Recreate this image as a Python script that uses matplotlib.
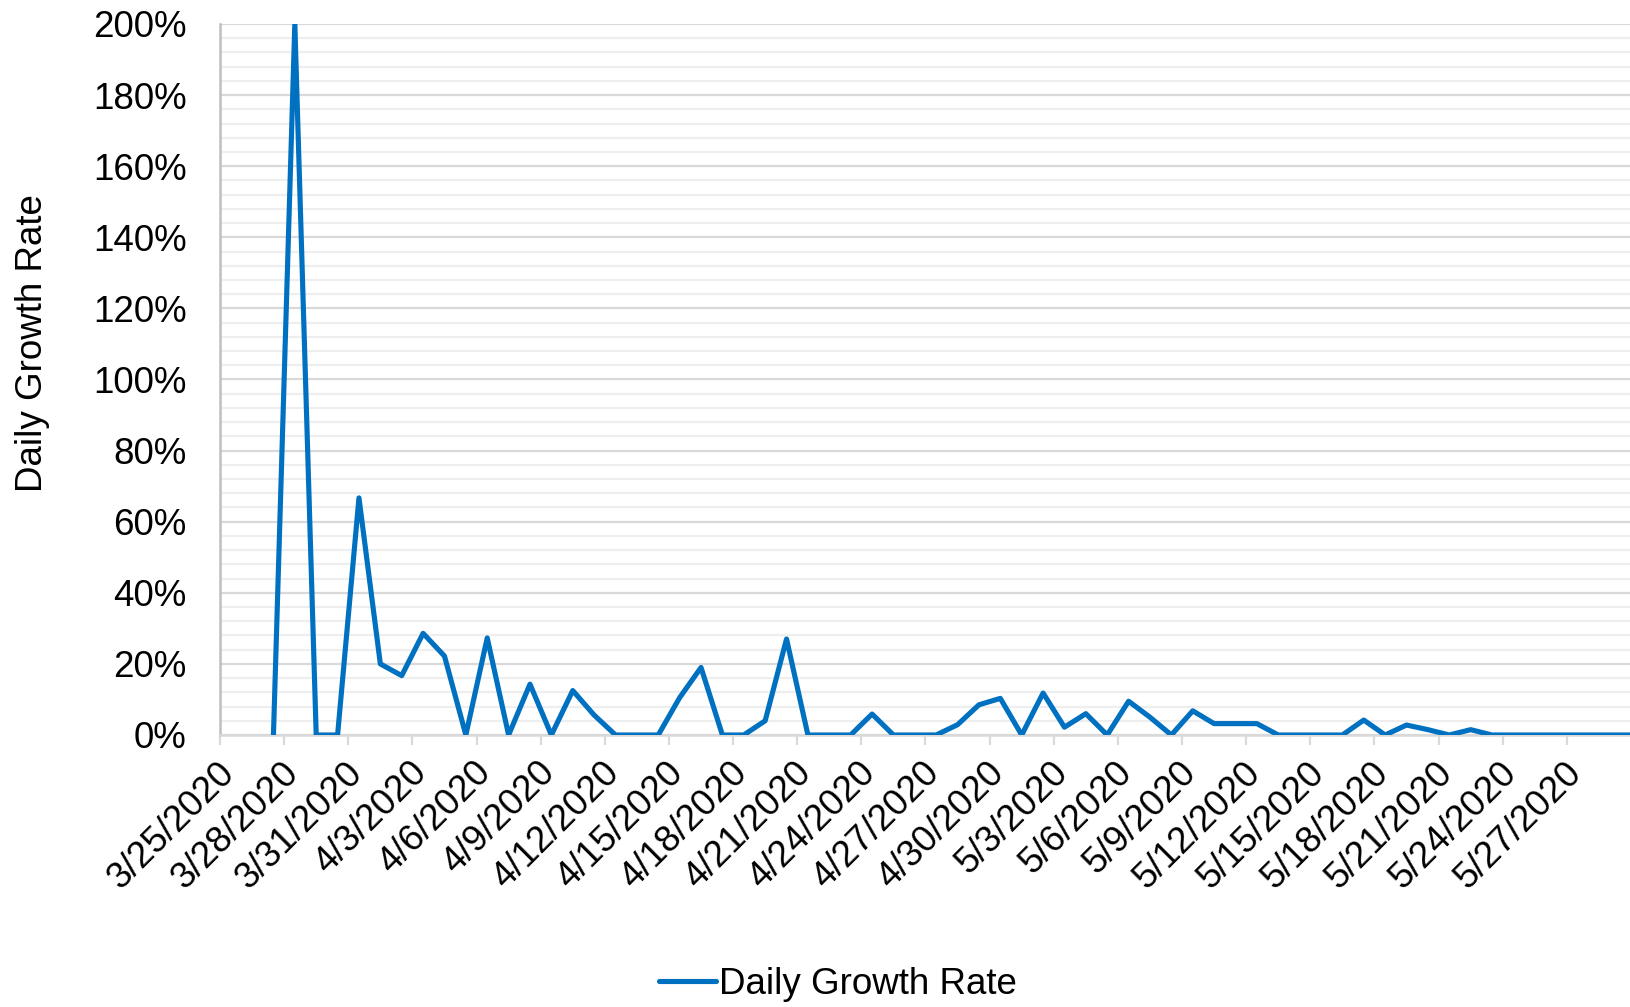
import numpy as np
import matplotlib
matplotlib.use("Agg")
import matplotlib.pyplot as plt
from matplotlib.ticker import MultipleLocator, FuncFormatter
import matplotlib.transforms as mtransforms

plt.rcParams['font.family'] = ['Liberation Sans', 'DejaVu Sans']

# Categories: one per day, 3/25/2020 ... 5/31/2020
dates = ["3/25/2020", "3/26/2020", "3/27/2020", "3/28/2020", "3/29/2020", "3/30/2020", "3/31/2020",
         "4/1/2020", "4/2/2020", "4/3/2020", "4/4/2020", "4/5/2020", "4/6/2020", "4/7/2020",
         "4/8/2020", "4/9/2020", "4/10/2020", "4/11/2020", "4/12/2020", "4/13/2020", "4/14/2020",
         "4/15/2020", "4/16/2020", "4/17/2020", "4/18/2020", "4/19/2020", "4/20/2020", "4/21/2020",
         "4/22/2020", "4/23/2020", "4/24/2020", "4/25/2020", "4/26/2020", "4/27/2020", "4/28/2020",
         "4/29/2020", "4/30/2020", "5/1/2020", "5/2/2020", "5/3/2020", "5/4/2020", "5/5/2020",
         "5/6/2020", "5/7/2020", "5/8/2020", "5/9/2020", "5/10/2020", "5/11/2020", "5/12/2020",
         "5/13/2020", "5/14/2020", "5/15/2020", "5/16/2020", "5/17/2020", "5/18/2020", "5/19/2020",
         "5/20/2020", "5/21/2020", "5/22/2020", "5/23/2020", "5/24/2020", "5/25/2020", "5/26/2020",
         "5/27/2020", "5/28/2020", "5/29/2020", "5/30/2020", "5/31/2020"]

# Daily growth rate in percent (NaN = no data)
growth = [np.nan, np.nan, 0, 200, 0, 0, 66.7,
          20.0, 16.7, 28.6, 22.2, 0, 27.3, 0,
          14.3, 0, 12.5, 5.6, 0, 0, 0,
          10.5, 19.0, 0, 0, 4.0, 27.0, 0,
          0, 0, 5.9, 0, 0, 0, 2.9,
          8.5, 10.3, 0, 11.8, 2.2, 6.0, 0,
          9.5, 5.0, 0, 6.8, 3.2, 3.2, 3.2,
          0, 0, 0, 0, 4.2, 0, 2.8,
          1.5, 0, 1.5, 0, 0, 0, 0,
          0, 0, 0, 0, 0]

series_name = "Daily Growth Rate"
y_label = "Daily Growth Rate"

W, H = 1631, 1007
fig = plt.figure(figsize=(W / 100, H / 100), dpi=100)
left, right, top, bottom = 220, 1631, 24, 735
ax = fig.add_axes([left / W, 1 - bottom / H, (right - left) / W, (bottom - top) / H])

x = np.arange(len(growth)) + 0.5
line, = ax.plot(x, growth, color='#0070C0', lw=3.7, solid_joinstyle='round',
                solid_capstyle='round', label=series_name, zorder=3)

ax.set_xlim(0, 66)
ax.set_ylim(0, 200)

ax.yaxis.set_major_locator(MultipleLocator(20))
ax.yaxis.set_minor_locator(MultipleLocator(4))
ax.yaxis.set_major_formatter(FuncFormatter(lambda v, p: f"{v:.0f}%"))
ax.grid(which='major', axis='y', color='#d9d9d9', lw=1.6, zorder=0)
ax.grid(which='minor', axis='y', color='#eeeeee', lw=1.6, zorder=0)
ax.set_axisbelow(True)

tick_pos = np.arange(0, 66, 3)
ax.set_xticks(tick_pos)
ax.set_xticklabels([dates[i] for i in tick_pos])
ax.xaxis.set_minor_locator(plt.NullLocator())

for s in ['top', 'right']:
    ax.spines[s].set_visible(False)
ax.spines['left'].set_color('#bfbfbf')
ax.spines['left'].set_linewidth(1.8)
ax.spines['bottom'].set_color('#d9d9d9')
ax.spines['bottom'].set_linewidth(1.8)

FS = 26.5
ax.tick_params(axis='y', which='both', length=0, pad=24, labelsize=FS, labelcolor='black')
ax.tick_params(axis='x', which='major', length=7.5, width=1.6, color='#d9d9d9',
               direction='out', pad=16, labelsize=FS, labelcolor='black')

offset = mtransforms.ScaledTranslation(9 / 100, 0, fig.dpi_scale_trans)
for lab in ax.get_xticklabels():
    lab.set_rotation(45)
    lab.set_rotation_mode('anchor')
    lab.set_ha('right')
    lab.set_va('center')
    lab.set_transform(lab.get_transform() + offset)

fig.text(33 / W, 1 - 343 / H, y_label, rotation=90, ha='center', va='center', fontsize=FS)

fig.legend(handles=[line], loc='center', bbox_to_anchor=(838 / W, 1 - 984 / H),
           frameon=False, fontsize=FS, handlelength=1.55, handletextpad=0.1,
           borderpad=0)

fig.savefig("out.png", dpi=100)
